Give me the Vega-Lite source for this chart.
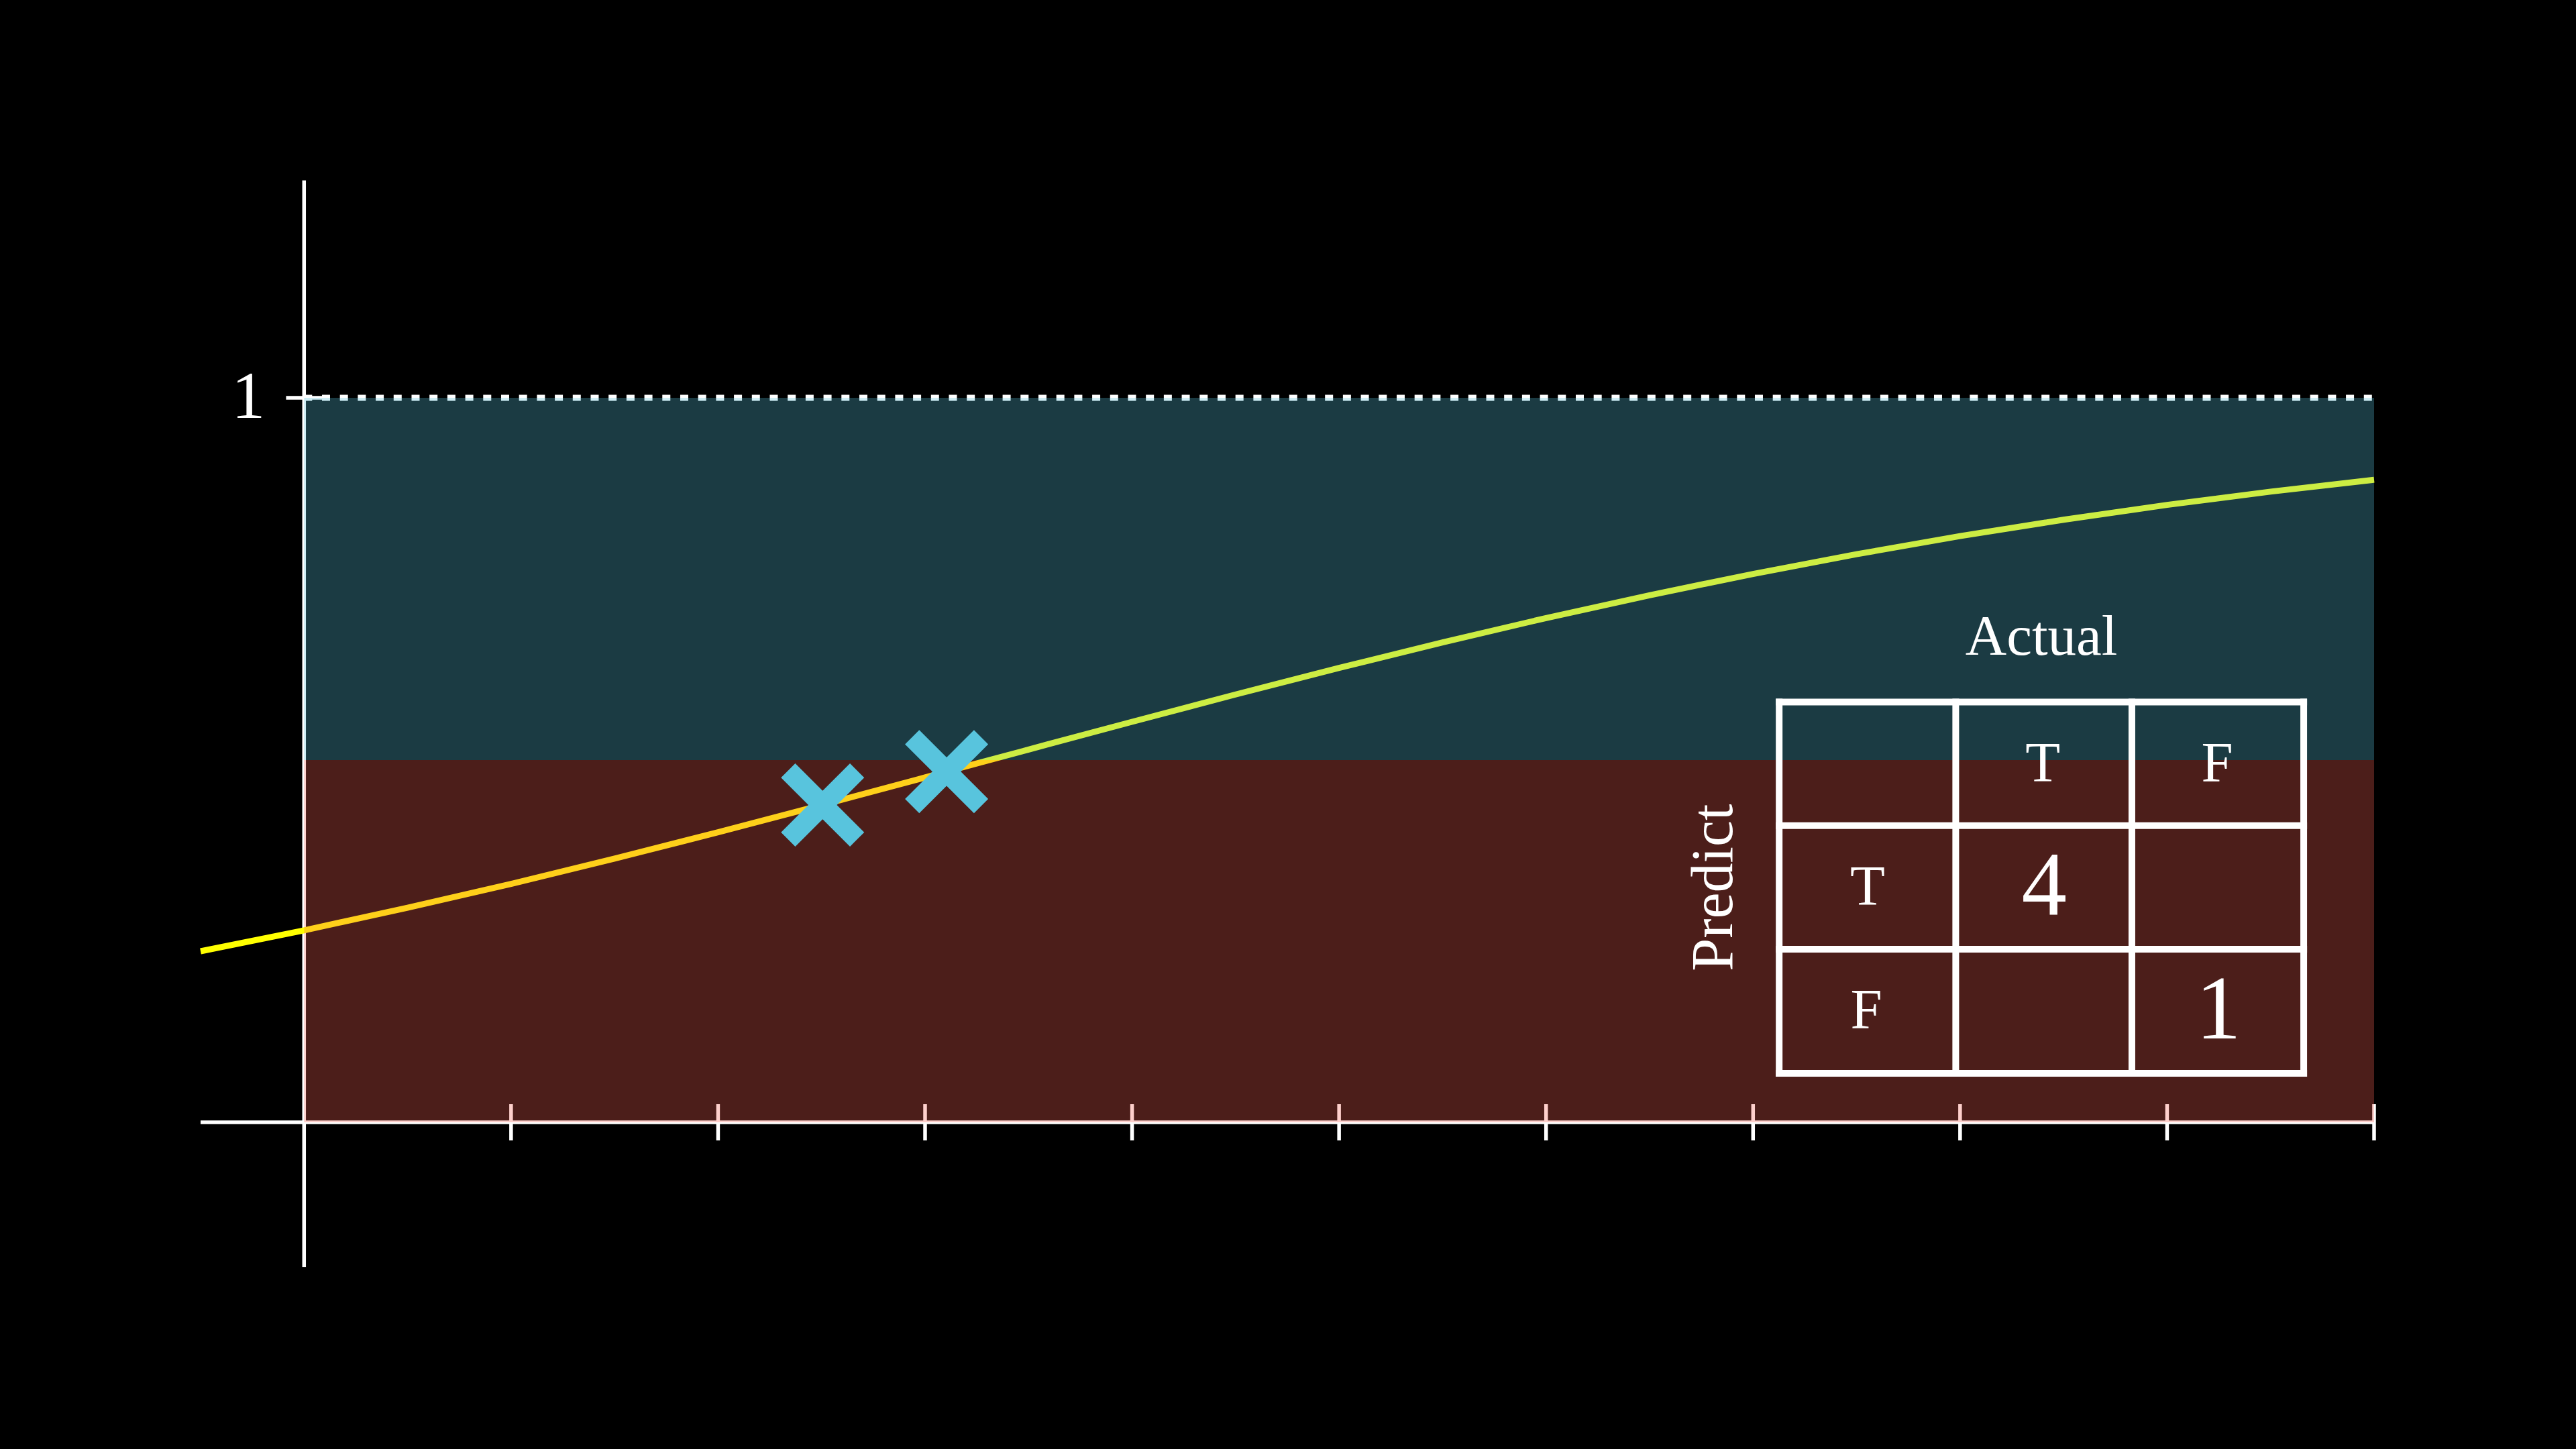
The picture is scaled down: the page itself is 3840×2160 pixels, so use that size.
{
  "$schema": "https://vega.github.io/schema/vega-lite/v6.json",
  "width": 3240,
  "height": 1620,
  "autosize": {"type": "none"},
  "padding": {"left": 299, "top": 269, "right": 301, "bottom": 271},
  "background": "#000000",
  "config": {"view": {"stroke": null}},
  "datasets": {
    "axes": [
      {"x": -0.5, "y": 0, "x2": 10, "y2": 0},
      {"x": 0, "y": -0.2, "x2": 0, "y2": 1.3}
    ],
    "ticks": [
      {"x": 1, "y": -0.025, "x2": 1, "y2": 0.025},
      {"x": 2, "y": -0.025, "x2": 2, "y2": 0.025},
      {"x": 3, "y": -0.025, "x2": 3, "y2": 0.025},
      {"x": 4, "y": -0.025, "x2": 4, "y2": 0.025},
      {"x": 5, "y": -0.025, "x2": 5, "y2": 0.025},
      {"x": 6, "y": -0.025, "x2": 6, "y2": 0.025},
      {"x": 7, "y": -0.025, "x2": 7, "y2": 0.025},
      {"x": 8, "y": -0.025, "x2": 8, "y2": 0.025},
      {"x": 9, "y": -0.025, "x2": 9, "y2": 0.025},
      {"x": 10, "y": -0.025, "x2": 10, "y2": 0.025},
      {"x": -0.087, "y": 1, "x2": 0.087, "y2": 1}
    ],
    "dotted": [
      {"x": 0, "y": 1, "x2": 10, "y2": 1}
    ],
    "curve": [
      {"x": -0.5, "y": 0.2361},
      {"x": 0, "y": 0.265},
      {"x": 0.5, "y": 0.2961},
      {"x": 1, "y": 0.3291},
      {"x": 1.5, "y": 0.364},
      {"x": 2, "y": 0.4003},
      {"x": 2.5, "y": 0.4378},
      {"x": 3, "y": 0.476},
      {"x": 3.5, "y": 0.5145},
      {"x": 4, "y": 0.5528},
      {"x": 4.5, "y": 0.5905},
      {"x": 5, "y": 0.6272},
      {"x": 5.5, "y": 0.6624},
      {"x": 6, "y": 0.696},
      {"x": 6.5, "y": 0.7275},
      {"x": 7, "y": 0.7569},
      {"x": 7.5, "y": 0.7841},
      {"x": 8, "y": 0.8091},
      {"x": 8.5, "y": 0.8317},
      {"x": 9, "y": 0.8522},
      {"x": 9.5, "y": 0.8705},
      {"x": 10, "y": 0.8869}
    ],
    "regions": [
      {"region": "below", "x": 0, "x2": 10, "y": 0, "y2": 0.5},
      {"region": "above", "x": 0, "x2": 10, "y": 0.5, "y2": 1}
    ],
    "crosses": [
      {"x": 2.505, "y": 0.438},
      {"x": 3.104, "y": 0.484}
    ],
    "tablelines": [
      {"x": 7.126, "y": 0.58, "x2": 9.66, "y2": 0.58},
      {"x": 7.126, "y": 0.4095, "x2": 9.66, "y2": 0.4095},
      {"x": 7.126, "y": 0.239, "x2": 9.66, "y2": 0.239},
      {"x": 7.126, "y": 0.0676, "x2": 9.66, "y2": 0.0676},
      {"x": 7.126, "y": 0.0676, "x2": 7.126, "y2": 0.58},
      {"x": 7.979, "y": 0.0676, "x2": 7.979, "y2": 0.58},
      {"x": 8.83, "y": 0.0676, "x2": 8.83, "y2": 0.58},
      {"x": 9.66, "y": 0.0676, "x2": 9.66, "y2": 0.58}
    ],
    "smalltext": [
      {"x": 8.393, "y": 0.669, "label": "Actual"},
      {"x": 8.4, "y": 0.494, "label": "T"},
      {"x": 9.242, "y": 0.494, "label": "F"},
      {"x": 7.553, "y": 0.324, "label": "T"},
      {"x": 7.547, "y": 0.154, "label": "F"}
    ],
    "bigtext": [
      {"x": 8.406, "y": 0.324, "label": "4"},
      {"x": 9.248, "y": 0.154, "label": "1"}
    ],
    "rotated": [
      {"x": 6.815, "y": 0.324, "label": "Predict"}
    ],
    "ticklabels": [
      {"x": -0.269, "y": 1, "label": "1"}
    ]
  },
  "encoding": {
    "x": {"field": "x", "type": "quantitative", "scale": {"domain": [-0.5, 10], "nice": false, "zero": false}, "axis": null},
    "y": {"field": "y", "type": "quantitative", "scale": {"domain": [-0.2, 1.3], "nice": false, "zero": false}, "axis": null}
  },
  "layer": [
    {
      "data": {"name": "axes"},
      "mark": {"type": "rule", "color": "#ffffff", "strokeWidth": 5.5},
      "encoding": {"x2": {"field": "x2"}, "y2": {"field": "y2"}}
    },
    {
      "data": {"name": "ticks"},
      "mark": {"type": "rule", "color": "#ffffff", "strokeWidth": 5.5},
      "encoding": {"x2": {"field": "x2"}, "y2": {"field": "y2"}}
    },
    {
      "data": {"name": "dotted"},
      "mark": {"type": "rule", "color": "#ffffff", "strokeWidth": 9, "strokeDash": [12, 14.7]},
      "encoding": {"x2": {"field": "x2"}, "y2": {"field": "y2"}}
    },
    {
      "data": {"name": "curve"},
      "mark": {"type": "line", "color": "#FFFF00", "strokeWidth": 9, "interpolate": "monotone"},
      "encoding": {}
    },
    {
      "data": {"name": "regions"},
      "mark": {"type": "rect", "opacity": 0.3},
      "encoding": {
        "x2": {"field": "x2"},
        "y2": {"field": "y2"},
        "color": {"field": "region", "type": "nominal", "scale": {"domain": ["below", "above"], "range": ["#FC6255", "#58C4DD"]}, "legend": null}
      }
    },
    {
      "data": {"name": "crosses"},
      "mark": {
        "type": "point",
        "filled": true,
        "color": "#58C4DD",
        "opacity": 1,
        "strokeWidth": 0,
        "size": 15376,
        "shape": "M 0 -0.342 L 0.658 -1 L 1 -0.658 L 0.342 0 L 1 0.658 L 0.658 1 L 0 0.342 L -0.658 1 L -1 0.658 L -0.342 0 L -1 -0.658 L -0.658 -1 Z"
      },
      "encoding": {}
    },
    {
      "data": {"name": "tablelines"},
      "mark": {"type": "rule", "color": "#ffffff", "strokeWidth": 10, "strokeCap": "square"},
      "encoding": {"x2": {"field": "x2"}, "y2": {"field": "y2"}}
    },
    {
      "data": {"name": "smalltext"},
      "mark": {"type": "text", "color": "#ffffff", "font": "Liberation Serif", "fontSize": 85, "align": "center", "baseline": "middle"},
      "encoding": {"text": {"field": "label"}}
    },
    {
      "data": {"name": "bigtext"},
      "mark": {"type": "text", "color": "#ffffff", "font": "Liberation Serif", "fontSize": 135, "align": "center", "baseline": "middle"},
      "encoding": {"text": {"field": "label"}}
    },
    {
      "data": {"name": "rotated"},
      "mark": {"type": "text", "color": "#ffffff", "font": "Liberation Serif", "fontSize": 88, "align": "center", "baseline": "middle", "angle": 270},
      "encoding": {"text": {"field": "label"}}
    },
    {
      "data": {"name": "ticklabels"},
      "mark": {"type": "text", "color": "#ffffff", "font": "Liberation Serif", "fontSize": 100, "align": "center", "baseline": "middle"},
      "encoding": {"text": {"field": "label"}}
    }
  ]
}
